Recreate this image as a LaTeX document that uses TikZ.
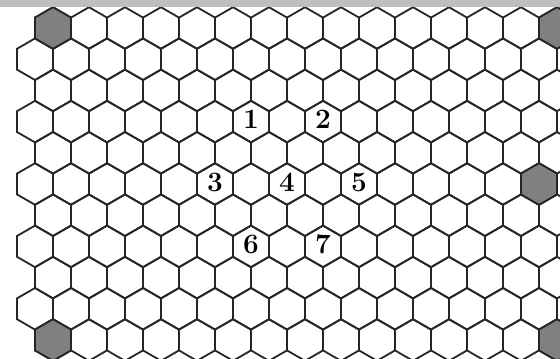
\documentclass[tikz,border=0pt]{standalone}
\usepackage{tikz}
\usetikzlibrary{shapes.geometric}

\begin{document}
\begin{tikzpicture}[
  x=1pt, y=-1pt,
  hexcell/.style={draw=black!85, line width=1.8pt, shape=regular polygon,
    regular polygon sides=6, shape border rotate=30,
    minimum size=41.6pt, inner sep=0pt},
  corner/.style={hexcell, fill=black!50},
  num/.style={font=\fontsize{28}{28}\selectfont\bfseries, inner sep=0pt},
]
  \useasboundingbox (0,0) rectangle (560,359);
  \clip (0,0) rectangle (560,359);
  \fill[white] (0,0) rectangle (560,359);

  % Board cells
  \foreach \r in {0,...,10}
    \foreach \c in {0,...,14} {
      \pgfmathsetmacro{\hx}{35+36*\c+18*(1-mod(\r,2))}
      \pgfmathsetmacro{\hy}{28+31.2*\r}
      \node[hexcell] (hex-\r-\c) at (\hx,\hy) {};
    }

  % Corner cells
  \foreach \r/\c in {0/0, 0/14, 5/14, 10/0, 10/14}
    \node[corner] (gray-\r-\c) at (hex-\r-\c) {};

  % Numbered cells
  \node[num] (lab1) at ([yshift=2pt]hex-3-6) {1};
  \node[num] (lab2) at ([yshift=2pt]hex-3-8) {2};
  \node[num] (lab3) at ([yshift=2pt]hex-5-5) {3};
  \node[num] (lab4) at ([yshift=2pt]hex-5-7) {4};
  \node[num] (lab5) at ([yshift=2pt]hex-5-9) {5};
  \node[num] (lab6) at ([yshift=2pt]hex-7-6) {6};
  \node[num] (lab7) at ([yshift=2pt]hex-7-8) {7};

  % Top strip
  \fill[black!25] (0,0) rectangle (560,6.5);
\end{tikzpicture}
\end{document}
